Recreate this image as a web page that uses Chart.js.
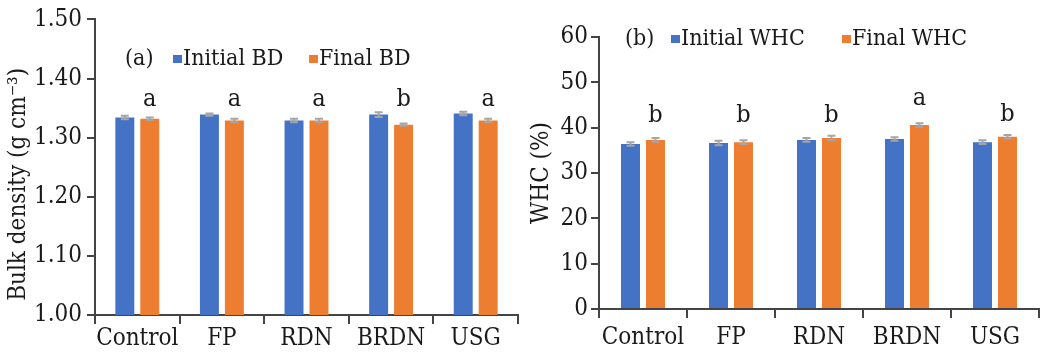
<!DOCTYPE html>
<html>
<head>
<meta charset="utf-8">
<script src="https://cdn.jsdelivr.net/npm/chart.js@4.4.1/dist/chart.umd.min.js"></script>
<style>
  html, body { margin: 0; padding: 0; background: #ffffff; }
  #wrapA { position: absolute; left: 0; top: 0; width: 520px; height: 354px; }
  #wrapB { position: absolute; left: 520px; top: 0; width: 527px; height: 354px; }
</style>
</head>
<body>
<div id="wrapA"><canvas id="chartBD"></canvas></div>
<div id="wrapB"><canvas id="chartWHC"></canvas></div>
<script>
// datos
const categories = ['Control', 'FP', 'RDN', 'BRDN', 'USG'];

const initialBD = [1.334, 1.339, 1.329, 1.339, 1.341];
const finalBD = [1.332, 1.329, 1.329, 1.322, 1.329];
const initialBDErr = [0.003, 0.002, 0.003, 0.004, 0.003];
const finalBDErr = [0.002, 0.003, 0.003, 0.002, 0.003];
const lettersBD = ['a', 'a', 'a', 'b', 'a'];
const letterPosBD = [1.354, 1.354, 1.354, 1.354, 1.354];

const initialWHC = [36.4, 36.6, 37.3, 37.5, 36.8];
const finalWHC = [37.3, 36.8, 37.7, 40.6, 38.0];
const initialWHCErr = [0.4, 0.5, 0.4, 0.4, 0.4];
const finalWHCErr = [0.4, 0.4, 0.5, 0.4, 0.4];
const lettersWHC = ['b', 'b', 'b', 'a', 'b'];
const letterPosWHC = [41.25, 41.25, 41.25, 45.0, 41.5];

const BLUE = '#4472C4';
const ORANGE = '#ED7D31';
const AXIS = '#444444';
const TEXT = '#1a1a1a';
const FONT = "'DejaVu Serif Condensed', 'Liberation Serif', serif";

// barras de error grises
const errorBarPlugin = {
    id: 'errorBars',
    afterDatasetsDraw(chart) {
        const ctx = chart.ctx;
        const y = chart.scales.y;
        ctx.save();
        ctx.strokeStyle = '#A5A5A5';
        ctx.lineWidth = 2;
        chart.data.datasets.forEach((ds, di) => {
            const meta = chart.getDatasetMeta(di);
            meta.data.forEach((bar, i) => {
                const e = ds.errorBars[i];
                const top = y.getPixelForValue(ds.data[i] + e);
                const bot = y.getPixelForValue(ds.data[i] - e);
                ctx.beginPath();
                ctx.moveTo(bar.x, top); ctx.lineTo(bar.x, bot);
                ctx.moveTo(bar.x - 4, top); ctx.lineTo(bar.x + 4, top);
                ctx.moveTo(bar.x - 4, bot); ctx.lineTo(bar.x + 4, bot);
                ctx.stroke();
            });
        });
        ctx.restore();
    }
};

// letras de significancia sobre la barra final
const lettersPlugin = {
    id: 'sigLetters',
    afterDatasetsDraw(chart, args, opts) {
        const ctx = chart.ctx;
        const y = chart.scales.y;
        const meta = chart.getDatasetMeta(1);
        ctx.save();
        ctx.font = '25px ' + FONT;
        ctx.fillStyle = TEXT;
        ctx.textAlign = 'center';
        ctx.textBaseline = 'alphabetic';
        meta.data.forEach((bar, i) => {
            ctx.fillText(opts.letters[i], bar.x, y.getPixelForValue(opts.pos[i]));
        });
        ctx.restore();
    }
};

// leyenda tipo Excel con la etiqueta del panel
const panelLegendPlugin = {
    id: 'panelLegend',
    afterDraw(chart, args, opts) {
        const ctx = chart.ctx;
        ctx.save();
        ctx.font = '23px ' + FONT;
        ctx.fillStyle = TEXT;
        ctx.textBaseline = 'alphabetic';
        ctx.textAlign = 'left';
        ctx.fillText(opts.tag, opts.tagX, opts.baseline);
        chart.data.datasets.forEach((ds, i) => {
            const bx = opts.boxX[i];
            ctx.fillStyle = ds.backgroundColor;
            ctx.fillRect(bx, opts.baseline - 10, 9, 8);
            ctx.fillStyle = TEXT;
            ctx.fillText(ds.label, bx + 10, opts.baseline);
        });
        ctx.restore();
    }
};

function makeChart(id, cfg) {
    const ctx = document.getElementById(id).getContext('2d');
    return new Chart(ctx, {
        type: 'bar',
        data: {
            labels: categories,
            datasets: [
                {
                    label: cfg.labels[0],
                    data: cfg.initial,
                    errorBars: cfg.initialErr,
                    backgroundColor: BLUE,
                    categoryPercentage: cfg.catPct,
                    barPercentage: 0.76
                },
                {
                    label: cfg.labels[1],
                    data: cfg.final,
                    errorBars: cfg.finalErr,
                    backgroundColor: ORANGE,
                    categoryPercentage: cfg.catPct,
                    barPercentage: 0.76
                }
            ]
        },
        options: {
            responsive: true,
            maintainAspectRatio: false,
            animation: false,
            layout: { padding: cfg.padding },
            plugins: {
                legend: { display: false },
                tooltip: { enabled: false },
                sigLetters: { letters: cfg.letters, pos: cfg.letterPos },
                panelLegend: cfg.legend
            },
            scales: {
                x: {
                    grid: {
                        offset: true,
                        drawOnChartArea: false,
                        drawTicks: true,
                        tickLength: 9,
                        color: AXIS,
                        lineWidth: 2
                    },
                    border: { color: AXIS, width: 2 },
                    ticks: {
                        color: TEXT,
                        font: { family: FONT, size: 24 },
                        padding: cfg.xPad,
                        maxRotation: 0,
                        autoSkip: false
                    },
                    afterFit: function(s) { s.height = cfg.xHeight; }
                },
                y: {
                    min: cfg.min,
                    max: cfg.max,
                    grid: {
                        drawOnChartArea: false,
                        drawTicks: true,
                        tickLength: 8,
                        color: AXIS,
                        lineWidth: 2
                    },
                    border: { color: AXIS, width: 2 },
                    ticks: {
                        stepSize: cfg.step,
                        color: TEXT,
                        font: { family: FONT, size: 24 },
                        padding: cfg.yPad,
                        callback: cfg.fmt
                    },
                    title: {
                        display: true,
                        text: cfg.title,
                        color: TEXT,
                        font: { family: FONT, size: 24 },
                        padding: { top: cfg.titlePad, bottom: 0 }
                    },
                    afterFit: function(s) { s.width = cfg.yWidth; }
                }
            }
        },
        plugins: [errorBarPlugin, lettersPlugin, panelLegendPlugin]
    });
}

makeChart('chartBD', {
    labels: ['Initial BD', 'Final BD'],
    initial: initialBD, final: finalBD,
    initialErr: initialBDErr, finalErr: finalBDErr,
    letters: lettersBD, letterPos: letterPosBD,
    catPct: 0.59,
    min: 1.0, max: 1.5, step: 0.1,
    fmt: v => Number(v).toFixed(2),
    // espacios al final para bajar el titulo como en la figura
    title: 'Bulk density (g cm\u207B\u00B3)     ',
    titlePad: 4,
    yWidth: 95, yPad: 5,
    xHeight: 39, xPad: 0,
    padding: { top: 17, right: 2, bottom: 0, left: 0 },
    legend: { tag: '(a)', tagX: 125, baseline: 65, boxX: [173, 309] }
});

makeChart('chartWHC', {
    labels: ['Initial WHC', 'Final WHC'],
    initial: initialWHC, final: finalWHC,
    initialErr: initialWHCErr, finalErr: finalWHCErr,
    letters: lettersWHC, letterPos: letterPosWHC,
    catPct: 0.568,
    min: 0, max: 60, step: 10,
    fmt: v => v,
    title: 'WHC (%)',
    titlePad: 7,
    yWidth: 79, yPad: 3,
    xHeight: 45, xPad: 5,
    padding: { top: 37, right: 8, bottom: 0, left: 0 },
    legend: { tag: '(b)', tagX: 105, baseline: 45, boxX: [151, 322] }
});
</script>
</body>
</html>
